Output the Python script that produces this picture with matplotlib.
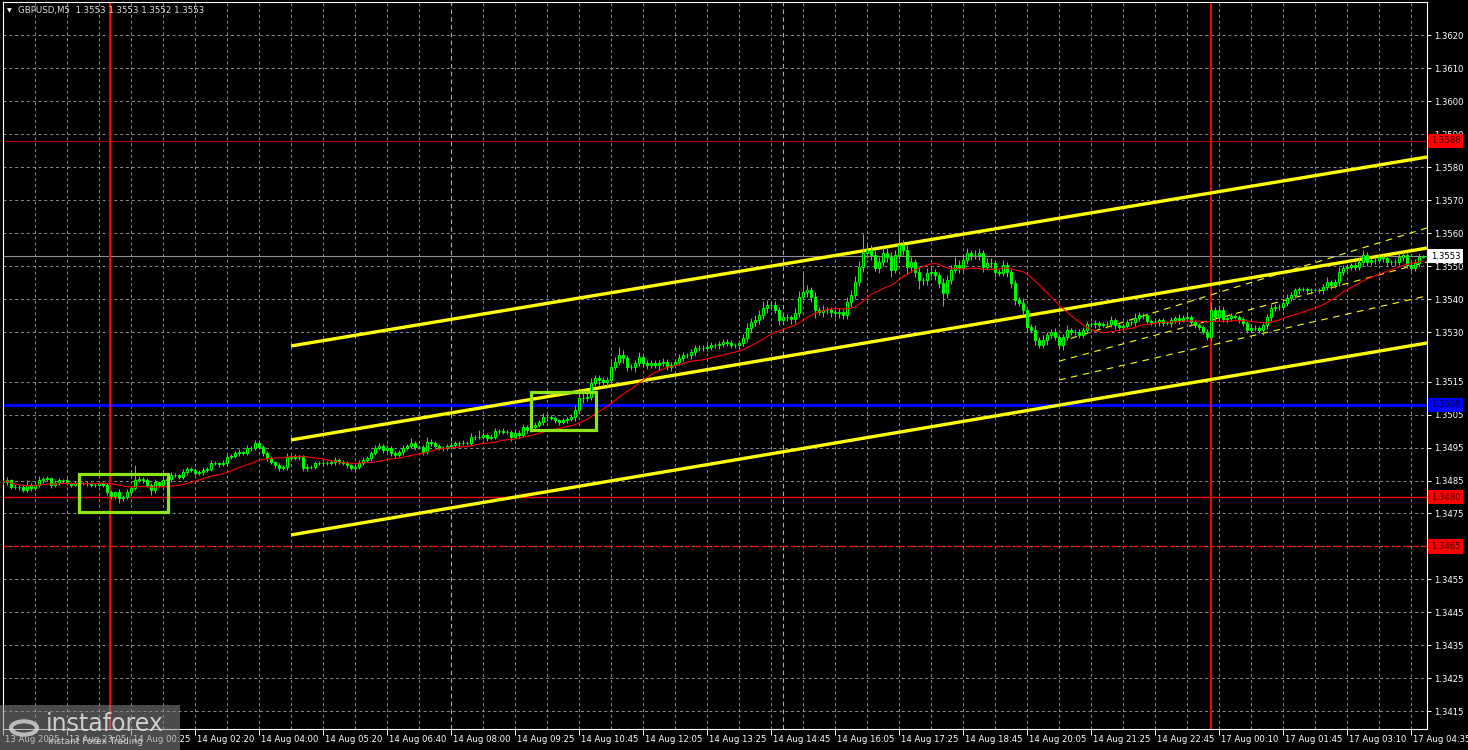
import numpy as np
import pandas as pd
import matplotlib
matplotlib.use("Agg")
import matplotlib.pyplot as plt
from matplotlib.patches import Rectangle, Circle
from matplotlib.transforms import blended_transform_factory

plt.rcParams['font.family'] = ['DejaVu Sans']

# Cours de clôture GBPUSD M5 (une ligne = 16 barres)
closes = [
    1.34845, 1.34852, 1.34830, 1.34830, 1.34830, 1.34821, 1.34836, 1.34827, 1.34836, 1.34852, 1.34855, 1.34858, 1.34836, 1.34842, 1.34852, 1.34852,
    1.34842, 1.34836, 1.34842, 1.34842, 1.34842, 1.34842, 1.34836, 1.34836, 1.34842, 1.34836, 1.34815, 1.34803, 1.34815, 1.34797, 1.34800, 1.34815,
    1.34827, 1.34852, 1.34855, 1.34852, 1.34836, 1.34821, 1.34845, 1.34836, 1.34852, 1.34855, 1.34867, 1.34867, 1.34861, 1.34876, 1.34885, 1.34882,
    1.34873, 1.34876, 1.34882, 1.34885, 1.34903, 1.34903, 1.34900, 1.34903, 1.34921, 1.34924, 1.34933, 1.34936, 1.34933, 1.34949, 1.34949, 1.34964,
    1.34952, 1.34933, 1.34918, 1.34906, 1.34897, 1.34888, 1.34891, 1.34921, 1.34918, 1.34921, 1.34921, 1.34888, 1.34891, 1.34891, 1.34903, 1.34903,
    1.34903, 1.34903, 1.34906, 1.34912, 1.34906, 1.34903, 1.34897, 1.34888, 1.34891, 1.34903, 1.34912, 1.34918, 1.34933, 1.34949, 1.34955, 1.34943,
    1.34949, 1.34933, 1.34927, 1.34936, 1.34949, 1.34955, 1.34964, 1.34952, 1.34952, 1.34936, 1.34967, 1.34964, 1.34955, 1.34949, 1.34949, 1.34955,
    1.34958, 1.34964, 1.34964, 1.34964, 1.34964, 1.34982, 1.34982, 1.34982, 1.34988, 1.34979, 1.34982, 1.35000, 1.35000, 1.34997, 1.34997, 1.34982,
    1.34994, 1.34988, 1.35012, 1.35003, 1.35012, 1.35018, 1.35027, 1.35042, 1.35042, 1.35039, 1.35033, 1.35027, 1.35033, 1.35036, 1.35042, 1.35064,
    1.35100, 1.35100, 1.35103, 1.35145, 1.35161, 1.35155, 1.35148, 1.35155, 1.35194, 1.35209, 1.35230, 1.35221, 1.35194, 1.35194, 1.35206, 1.35224,
    1.35206, 1.35200, 1.35206, 1.35200, 1.35206, 1.35209, 1.35194, 1.35200, 1.35209, 1.35221, 1.35230, 1.35230, 1.35239, 1.35252, 1.35252, 1.35252,
    1.35255, 1.35261, 1.35261, 1.35264, 1.35270, 1.35267, 1.35261, 1.35261, 1.35267, 1.35282, 1.35312, 1.35330, 1.35336, 1.35351, 1.35373, 1.35382,
    1.35382, 1.35367, 1.35336, 1.35345, 1.35345, 1.35339, 1.35357, 1.35406, 1.35421, 1.35427, 1.35406, 1.35367, 1.35361, 1.35367, 1.35367, 1.35361,
    1.35357, 1.35361, 1.35351, 1.35391, 1.35412, 1.35451, 1.35497, 1.35539, 1.35548, 1.35533, 1.35494, 1.35512, 1.35539, 1.35527, 1.35488, 1.35533,
    1.35564, 1.35548, 1.35497, 1.35512, 1.35482, 1.35457, 1.35457, 1.35479, 1.35482, 1.35473, 1.35448, 1.35418, 1.35457, 1.35488, 1.35503, 1.35494,
    1.35518, 1.35539, 1.35533, 1.35533, 1.35539, 1.35497, 1.35509, 1.35509, 1.35482, 1.35479, 1.35503, 1.35482, 1.35448, 1.35397, 1.35388, 1.35367,
    1.35315, 1.35306, 1.35276, 1.35261, 1.35276, 1.35291, 1.35300, 1.35285, 1.35261, 1.35285, 1.35306, 1.35300, 1.35300, 1.35291, 1.35306, 1.35324,
    1.35324, 1.35327, 1.35321, 1.35324, 1.35324, 1.35336, 1.35321, 1.35315, 1.35318, 1.35330, 1.35330, 1.35342, 1.35351, 1.35351, 1.35333, 1.35330,
    1.35330, 1.35336, 1.35327, 1.35327, 1.35336, 1.35342, 1.35336, 1.35342, 1.35345, 1.35330, 1.35321, 1.35315, 1.35300, 1.35285, 1.35367, 1.35345,
    1.35367, 1.35339, 1.35342, 1.35348, 1.35345, 1.35339, 1.35327, 1.35306, 1.35312, 1.35312, 1.35306, 1.35321, 1.35345, 1.35373, 1.35376, 1.35376,
    1.35388, 1.35403, 1.35412, 1.35427, 1.35430, 1.35430, 1.35427, 1.35427, 1.35427, 1.35427, 1.35436, 1.35451, 1.35442, 1.35451, 1.35482, 1.35494,
    1.35497, 1.35503, 1.35497, 1.35512, 1.35533, 1.35512, 1.35518, 1.35518, 1.35527, 1.35524, 1.35512, 1.35512, 1.35512, 1.35527, 1.35533, 1.35503,
    1.35494, 1.35509, 1.35527, 1.35530,
]
first_open = 1.34848

# Mèches hautes et basses (en pips)
up_wick = [
    0.5, 1, 0.3, 1, 0.5, 0.8, 1.5, 0.5, 0.8, 1.2, 0.5, 0.5, 0.3, 1, 0.6, 0.4,
    0.5, 0.4, 0.8, 0.3, 0.5, 0.6, 0.3, 0.7, 0.5, 0.4, 0.5, 0.6, 0.4, 1.0, 0.5, 0.8,
    0.6, 4.5, 0.8, 0.6, 0.5, 0.6, 1.0, 0.5, 0.8, 0.6, 1.0, 0.5, 0.4, 0.8, 0.6, 0.5,
    0.5, 0.6, 0.8, 0.5, 1.0, 0.5, 0.4, 0.8, 1.0, 0.5, 0.6, 1.0, 0.5, 0.8, 0.6, 1.0,
    0.8, 0.5, 0.6, 0.5, 0.4, 0.5, 0.6, 1.2, 0.5, 0.8, 0.6, 0.5, 0.8, 0.5, 0.6, 0.5,
    0.5, 0.6, 0.5, 0.8, 0.5, 0.6, 0.5, 0.4, 0.6, 0.8, 1.0, 0.6, 0.8, 1.0, 0.8, 0.5,
    0.8, 0.5, 0.6, 0.8, 1.0, 0.6, 1.5, 0.6, 0.5, 0.5, 1.5, 0.8, 0.5, 0.6, 0.5, 0.6,
    0.8, 0.6, 0.5, 0.8, 0.6, 1.2, 0.6, 2.0, 0.8, 0.6, 0.8, 1.0, 0.6, 0.8, 0.5, 0.6,
    0.6, 0.8, 1.0, 0.6, 1.5, 1.0, 0.8, 1.2, 1.0, 0.8, 0.6, 0.5, 0.8, 0.6, 1.0, 1.5,
    1.5, 2.5, 1.5, 1.5, 1.0, 1.0, 0.8, 1.0, 1.5, 1.5, 2.5, 1.5, 1.0, 1.0, 1.0, 1.5,
    1.0, 0.8, 1.0, 0.8, 1.0, 1.2, 0.8, 1.0, 1.0, 1.2, 1.0, 0.8, 1.0, 1.0, 0.8, 1.0,
    1.0, 0.8, 0.6, 1.0, 0.8, 1.0, 0.8, 0.6, 1.0, 1.2, 1.5, 1.2, 1.5, 1.5, 2.0, 1.5,
    1.0, 1.2, 1.0, 1.5, 1.0, 0.8, 1.5, 2.0, 6.5, 1.5, 1.0, 1.5, 1.0, 1.5, 1.0, 1.0,
    1.0, 1.2, 1.0, 1.5, 1.5, 2.0, 2.0, 6.0, 2.0, 1.5, 1.5, 1.5, 2.0, 1.5, 1.5, 1.5,
    3.5, 1.5, 1.5, 1.5, 1.0, 1.5, 1.0, 1.5, 2.0, 1.0, 1.0, 1.5, 1.5, 1.5, 2.5, 1.5,
    1.5, 1.5, 1.0, 1.5, 1.5, 1.0, 1.5, 1.5, 1.0, 1.0, 1.5, 1.0, 1.0, 1.0, 1.0, 1.5,
    1.0, 1.0, 1.5, 1.0, 1.5, 1.0, 1.0, 1.2, 1.0, 1.0, 1.5, 0.8, 1.0, 0.8, 1.0, 1.0,
    0.8, 1.0, 0.6, 0.8, 1.0, 1.2, 0.8, 0.6, 0.8, 1.0, 0.8, 1.5, 1.0, 0.8, 0.6, 0.8,
    1.0, 0.8, 0.6, 0.8, 1.0, 0.8, 1.2, 1.0, 1.5, 0.8, 0.6, 0.8, 0.6, 0.8, 2.5, 1.0,
    1.5, 0.8, 1.0, 1.0, 0.8, 0.6, 0.8, 0.6, 0.8, 1.0, 0.6, 0.8, 1.0, 1.2, 1.0, 0.8,
    1.0, 1.2, 1.0, 0.8, 0.8, 0.6, 0.8, 0.6, 0.6, 0.8, 1.0, 1.5, 0.8, 1.0, 1.5, 1.0,
    1.0, 0.8, 1.0, 1.2, 1.5, 1.0, 0.8, 1.0, 1.0, 0.8, 1.0, 0.8, 1.0, 1.2, 1.0, 0.8,
    1.0, 1.2, 1.0, 0.3,
]
down_wick = [
    0.5, 0.8, 0.6, 0.5, 1.0, 0.6, 0.5, 0.8, 0.6, 0.5, 0.8, 0.6, 1.0, 0.5, 0.6, 0.8,
    0.6, 0.5, 0.4, 0.6, 0.5, 0.8, 0.6, 0.5, 0.4, 0.6, 1.0, 0.8, 1.0, 1.5, 0.8, 0.6,
    0.8, 0.6, 0.5, 0.8, 0.6, 1.5, 0.8, 0.6, 0.5, 0.6, 0.8, 0.6, 0.5, 0.6, 0.8, 0.5,
    0.6, 0.5, 0.8, 0.6, 0.5, 0.6, 1.0, 0.5, 0.8, 0.6, 0.5, 0.8, 0.6, 0.5, 0.8, 0.6,
    0.6, 0.8, 1.0, 0.6, 0.8, 1.0, 0.6, 0.8, 0.6, 0.5, 0.8, 1.0, 0.8, 0.6, 0.5, 0.6,
    0.8, 0.6, 0.5, 0.8, 0.6, 0.5, 0.8, 0.6, 0.8, 0.6, 0.5, 0.6, 0.8, 0.6, 0.5, 1.0,
    0.6, 0.8, 1.0, 0.6, 0.8, 0.5, 0.6, 0.8, 0.6, 1.0, 0.6, 0.8, 0.6, 0.5, 0.8, 0.6,
    0.5, 0.6, 0.8, 0.6, 0.5, 0.6, 0.8, 0.6, 0.5, 1.0, 0.6, 0.5, 0.8, 0.6, 0.5, 1.2,
    0.6, 1.0, 0.6, 0.8, 0.6, 0.8, 0.6, 0.8, 1.0, 0.6, 0.8, 1.0, 0.6, 0.8, 0.6, 1.0,
    1.0, 1.5, 1.0, 1.0, 0.8, 1.5, 1.0, 1.2, 1.0, 1.0, 1.0, 1.5, 1.2, 1.0, 1.5, 1.0,
    1.0, 1.2, 1.0, 1.0, 1.5, 0.8, 1.0, 1.2, 0.8, 1.0, 1.0, 0.8, 1.0, 1.2, 1.0, 0.8,
    1.0, 0.8, 1.0, 1.2, 0.8, 1.0, 0.8, 1.0, 1.0, 1.0, 1.2, 1.5, 1.0, 1.2, 1.0, 1.5,
    1.5, 1.0, 1.5, 1.0, 1.2, 1.5, 1.0, 1.0, 1.0, 1.5, 1.5, 2.5, 1.0, 1.5, 1.2, 1.5,
    1.0, 1.5, 1.0, 1.0, 1.5, 1.0, 1.0, 1.5, 1.5, 1.5, 1.0, 1.5, 1.0, 1.5, 2.0, 1.0,
    1.0, 1.5, 2.0, 1.5, 1.5, 2.5, 1.5, 1.5, 1.0, 1.5, 1.5, 4.0, 1.5, 1.0, 1.0, 1.5,
    1.0, 1.0, 1.5, 1.0, 1.5, 1.5, 1.0, 1.5, 1.5, 1.0, 1.0, 1.5, 1.5, 1.5, 1.0, 1.5,
    1.5, 1.0, 1.5, 1.0, 1.0, 1.5, 1.0, 1.0, 1.0, 1.5, 1.0, 1.0, 1.0, 1.0, 0.8, 1.0,
    0.8, 1.0, 0.8, 0.6, 1.0, 0.8, 1.0, 0.8, 1.0, 0.6, 0.8, 1.0, 0.8, 1.0, 0.6, 0.8,
    0.8, 1.0, 0.8, 0.6, 1.0, 0.8, 1.0, 0.6, 0.8, 1.0, 0.8, 1.0, 0.6, 1.0, 1.0, 1.0,
    1.0, 0.8, 1.0, 0.8, 0.6, 1.0, 0.8, 1.0, 1.0, 0.8, 1.0, 1.5, 1.0, 1.0, 0.8, 1.0,
    1.0, 0.8, 1.0, 0.8, 1.0, 0.6, 0.8, 1.0, 0.6, 0.8, 1.0, 0.8, 1.0, 0.8, 1.0, 0.8,
    1.0, 1.0, 0.8, 1.0, 0.8, 1.0, 0.8, 1.0, 0.8, 1.0, 1.0, 0.8, 1.0, 0.8, 1.0, 0.8,
    1.0, 0.8, 1.0, 0.3,
]

# Graduations (1.3465 est cachée par l'étiquette du niveau)
price_ticks = [1.3620, 1.3610, 1.3600, 1.3590, 1.3580, 1.3570, 1.3560, 1.3550, 1.3540, 1.3530,
               1.3515, 1.3505, 1.3495, 1.3485, 1.3475, 1.3455, 1.3445, 1.3435, 1.3425, 1.3415]
hidden_grid = [1.3465]
time_labels = ["13 Aug 2025", "13 Aug 23:05", "14 Aug 00:25", "14 Aug 02:20", "14 Aug 04:00",
               "14 Aug 05:20", "14 Aug 06:40", "14 Aug 08:00", "14 Aug 09:25", "14 Aug 10:45",
               "14 Aug 12:05", "14 Aug 13:25", "14 Aug 14:45", "14 Aug 16:05", "14 Aug 17:25",
               "14 Aug 18:45", "14 Aug 20:05", "14 Aug 21:25", "14 Aug 22:45", "17 Aug 00:10",
               "17 Aug 01:45", "17 Aug 03:10", "17 Aug 04:35"]

# Niveaux horizontaux
level_red = [1.3588, 1.3480, 1.3465]
level_blue = 1.3508
bid = 1.3553

# Canal de tendance (barre de début, barre de fin, prix)
chan_bars = [72, 356]
chan_upper = [1.35258, 1.35831]
chan_mid = [1.34973, 1.35555]
chan_lower = [1.34685, 1.35267]
# Canal de régression (pointillés)
reg_bars = [264, 356]
reg_upper = [1.35270, 1.35616]
reg_mid = [1.35212, 1.35513]
reg_lower = [1.35155, 1.35410]

# Zones de signal (barre début, barre fin, prix bas, prix haut)
boxes = [(19, 41.25, 1.34755, 1.34870), (132, 148.25, 1.35003, 1.35118)]
day_lines = [26.75, 302]
green_vlines = [112, 195]

c = np.array(closes)
o = np.concatenate([[first_open], c[:-1]])
hi = np.maximum(o, c) + np.array(up_wick) * 1e-4
lo = np.minimum(o, c) - np.array(down_wick) * 1e-4
n = len(c)
idx = np.arange(n)
ma = pd.Series(c).rolling(20, min_periods=1).mean().values

W, H = 1468, 750
fig = plt.figure(figsize=(W / 100, H / 100), dpi=100, facecolor='black')
ax = fig.add_axes([3 / W, 21 / H, 1424 / W, 727 / H])
ax.set_facecolor('black')
ax.set_xlim(0, 356)
ax.set_ylim(1.340965, 1.363011)

# grille
for k in range(8, 356, 8):
    if k in green_vlines:
        continue
    ax.axvline(k, color='#8c8c8c', lw=0.7, ls=(0, (3, 3)), zorder=1)
for p in price_ticks + hidden_grid:
    ax.axhline(p, color='#8c8c8c', lw=0.7, ls=(0, (3, 3)), zorder=1)
for g in green_vlines:
    ax.axvline(g, color='#9acd32', lw=0.8, ls=(0, (4, 3)), zorder=1)

# niveaux
ax.axhline(bid, color='#909090', lw=0.8, zorder=2)
ax.axhline(level_red[0], color='#b00000', lw=0.8, zorder=2)
ax.axhline(level_red[1], color='red', lw=1.0, zorder=2)
ax.axhline(level_red[2], color='red', lw=1.0, ls=(0, (4, 3)), zorder=2)
ax.axhline(level_blue, color='#0000ff', lw=2.2, zorder=2)
for d in day_lines:
    ax.axvline(d, color='red', lw=1.4, zorder=2)

# canaux
for ys in (chan_upper, chan_mid, chan_lower):
    ax.plot(chan_bars, ys, color='#ffff00', lw=2.4, solid_capstyle='butt', zorder=3)
for ys in (reg_upper, reg_mid, reg_lower):
    ax.plot(reg_bars, ys, color='#ffff00', lw=0.8, ls=(0, (6, 5)), zorder=3)

# bougies
lime = '#00ff00'
ax.vlines(idx, lo, hi, color=lime, lw=0.75, zorder=4)
bull = c >= o
ax.bar(idx[bull], (c - o)[bull], bottom=o[bull], width=0.7, facecolor='black',
       edgecolor=lime, linewidth=0.7, zorder=5)
ax.bar(idx[~bull], (o - c)[~bull], bottom=c[~bull], width=0.7, facecolor=lime,
       edgecolor=lime, linewidth=0.7, zorder=5)

# moyenne mobile
ax.plot(idx, ma, color='red', lw=0.8, zorder=6)

# rectangles de signal
for b0, b1, p0, p1 in boxes:
    ax.add_patch(Rectangle((b0, p0), b1 - b0, p1 - p0, fill=False,
                           edgecolor='#8ee51a', lw=2.3, zorder=7))

for s in ax.spines.values():
    s.set_color('white')
    s.set_linewidth(0.8)

# axe des prix
fs = 6.1
ax.yaxis.tick_right()
ax.set_yticks(price_ticks)
ax.set_yticklabels(["%.4f" % p for p in price_ticks])
ax.tick_params(axis='y', colors='white', length=3, width=0.7, pad=2, labelsize=fs)
ax.set_xticks(np.arange(0, 353, 16))
ax.set_xticklabels([])
ax.tick_params(axis='x', colors='white', length=4, width=0.7)

tr_y = blended_transform_factory(ax.transAxes, ax.transData)
tags = [(level_red[0], '#ff0000', '#3a0000'), (level_red[1], '#ff0000', '#3a0000'),
        (level_red[2], '#ff0000', '#3a0000'), (level_blue, '#0000ff', '#00003a'),
        (bid, 'white', 'black')]
for p, bg, fg in tags:
    ax.text(1.0028, p, "%.4f" % p, transform=tr_y, ha='left', va='center', fontsize=fs,
            color=fg, clip_on=False, zorder=10,
            bbox=dict(boxstyle='square,pad=0.3', facecolor=bg, edgecolor='none'))

tr_x = blended_transform_factory(ax.transData, ax.transAxes)
for k, lab in enumerate(time_labels):
    ax.text(16 * k + 0.6, -0.0138, lab, transform=tr_x, ha='left', va='center',
            fontsize=fs, color='white', clip_on=False)

# titre
fig.text(7 / W, 1 - 11 / H, u"\u25BC", color='white', fontsize=4.5, va='center')
fig.text(18 / W, 1 - 11 / H, "GBPUSD,M5  1.3553 1.3553 1.3552 1.3553", color='#e0e0e0',
         fontsize=6.2, va='center')

# logo
fig.patches.append(Rectangle((0, 0), 180 / W, 45 / H, transform=fig.transFigure,
                             facecolor='#8a8a8a', alpha=0.55, edgecolor='none', zorder=20))
fig.patches.append(Circle((24 / W, 22 / H), 13 / W, transform=fig.transFigure,
                          facecolor='none', edgecolor='#d8d8d8', lw=3, alpha=0.8, zorder=21))
fig.text(46 / W, 26 / H, "instaforex", color='#dcdcdc', fontsize=17, va='center', alpha=0.9, zorder=22)
fig.text(48 / W, 8 / H, "Instant Forex Trading", color='#dcdcdc', fontsize=6.5, va='center', alpha=0.9, zorder=22)

fig.savefig("out.png", dpi=100, facecolor='black')
